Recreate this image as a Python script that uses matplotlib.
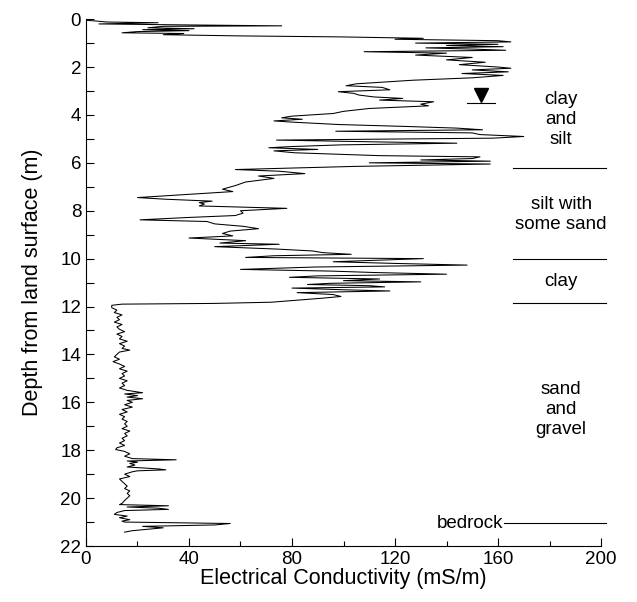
import numpy as np
import matplotlib.pyplot as plt
from matplotlib.ticker import MultipleLocator

plt.rcParams["font.family"] = ["Liberation Sans", "DejaVu Sans"]

# conductivity log: depth (m) and EC (mS/m)
depth = [0.05, 0.07, 0.12, 0.15, 0.2, 0.24, 0.28, 0.3, 0.36, 0.4, 0.44, 0.48, 0.52, 0.57, 0.6,
         0.65, 0.7, 0.74, 0.8, 0.84, 0.9, 0.95, 1.0, 1.05, 1.1, 1.15, 1.2, 1.25, 1.3, 1.36,
         1.42, 1.5, 1.6, 1.7, 1.8, 1.9, 2.0, 2.05, 2.12, 2.2, 2.27, 2.35, 2.45, 2.55, 2.7,
         2.78, 2.85, 2.95, 3.03, 3.1, 3.17, 3.25, 3.31, 3.38, 3.45, 3.55, 3.62, 3.73, 3.85, 3.94,
         4.05, 4.12, 4.18, 4.25, 4.3, 4.4, 4.48, 4.55, 4.62, 4.68, 4.75, 4.82, 4.9, 4.97, 5.05,
         5.12, 5.18, 5.25, 5.32, 5.37, 5.44, 5.5, 5.58, 5.65, 5.7, 5.75, 5.82, 5.88, 5.93, 6.0,
         6.05, 6.15, 6.28, 6.35, 6.45, 6.55, 6.65, 6.8, 6.95, 7.1, 7.2, 7.3, 7.45, 7.52, 7.6,
         7.66, 7.72, 7.8, 7.9, 8.0, 8.1, 8.2, 8.28, 8.38, 8.45, 8.55, 8.65, 8.75, 8.85, 8.95,
         9.05, 9.14, 9.25, 9.35, 9.4, 9.5, 9.6, 9.68, 9.75, 9.82, 9.88, 9.95, 10.0, 10.08, 10.13,
         10.2, 10.27, 10.35, 10.45, 10.52, 10.58, 10.65, 10.72, 10.78, 10.85, 10.92, 10.97, 11.03, 11.08, 11.13,
         11.18, 11.23, 11.3, 11.35, 11.42, 11.5, 11.58, 11.65, 11.75, 11.82, 11.87, 11.9, 11.95,
         12.05, 12.15, 12.25, 12.35, 12.45, 12.55, 12.65, 12.75, 12.85, 12.95, 13.05, 13.15, 13.25, 13.35, 13.45,
         13.55, 13.65, 13.75, 13.82, 13.9, 14.0, 14.1, 14.2, 14.3, 14.4, 14.5, 14.6, 14.7, 14.8, 14.9,
         15.0, 15.1, 15.2, 15.3, 15.4, 15.5, 15.6, 15.65, 15.72, 15.78, 15.85, 15.92, 16.0, 16.1, 16.2,
         16.3, 16.4, 16.5, 16.6, 16.7, 16.8, 16.9, 17.0, 17.1, 17.2, 17.3, 17.4, 17.5, 17.6, 17.7,
         17.8, 17.9, 17.97, 18.05, 18.15, 18.25, 18.35, 18.4, 18.45, 18.5, 18.55, 18.62, 18.7, 18.78, 18.82,
         18.86, 18.9, 19.0, 19.1, 19.2, 19.3, 19.4, 19.5, 19.6, 19.7, 19.8, 19.9, 20.0, 20.1, 20.22,
         20.27, 20.32, 20.37, 20.42, 20.47, 20.52, 20.6, 20.68, 20.75, 20.82, 20.9, 20.96, 21.0, 21.06, 21.12,
         21.18, 21.24, 21.3, 21.36, 21.42]
ec = [0, 3, 8, 28, 5, 38, 76, 30, 24, 42, 22, 40, 20, 14, 38,
      30, 60, 98, 131, 120, 160, 165, 128, 160, 140, 162, 132, 150, 163, 108,
      140, 128, 150, 140, 155, 145, 160, 165, 150, 164, 146, 162, 150, 127, 105,
      101, 115, 118, 98, 104, 106, 112, 123, 114, 135, 130, 133, 110, 100, 96,
      80, 76, 84, 73, 80, 98, 124, 144, 154, 97, 150, 153, 170, 158, 74,
      110, 144, 99, 80, 71, 90, 73, 81, 100, 114, 153, 150, 130, 157, 110,
      157, 104, 58, 75, 85, 67, 73, 62, 58, 53, 57, 42, 20, 31, 49,
      44, 46, 44, 78, 60, 61, 58, 40, 21, 47, 50, 61, 67, 56, 53,
      57, 40, 62, 52, 75, 50, 74, 88, 92, 103, 73, 62, 131, 110, 96,
      120, 148, 89, 60, 95, 112, 140, 90, 79, 114, 100, 130, 95, 86, 110,
      116, 80, 100, 118, 82, 96, 99, 92, 80, 72, 50, 14, 10,
      10, 12, 11, 14, 12, 13, 11, 14, 12, 13, 15, 12, 14, 13, 16,
      13, 15, 14, 17, 13, 12, 11, 13, 10.5, 13, 15, 13, 16, 14, 15,
      13, 16, 14, 15, 13, 16, 22, 15, 20, 16, 22, 16, 18, 15, 18,
      14, 16, 13, 15, 14, 16, 15, 16, 14, 17, 15, 16, 14, 15, 13,
      15, 12, 11.5, 15, 17, 15, 18, 35, 16, 20, 17, 19, 16, 28, 31,
      20, 18, 15, 17, 13, 14, 15, 16, 15, 17, 16, 17, 16, 15, 14,
      13, 32, 16, 28, 32, 15, 12, 11, 16, 13, 17, 14, 15, 56, 50,
      22, 30, 24, 18, 15]

# layer boundaries and labels
layer_depths = [6.2, 10.0, 11.85, 21.05]
layer_labels = ["clay\nand\nsilt", "silt with\nsome sand", "clay", "sand\nand\ngravel"]
label_depths = [4.2, 8.15, 10.95, 16.3]
water_table = 3.5

fig = plt.figure(figsize=(6.37, 6.02), dpi=100)
ax = fig.add_axes([0.135, 0.093, 0.8085, 0.8752])
ax.plot(ec, depth, color="black", lw=0.75)

for d in layer_depths[:3]:
    ax.plot([166, 202], [d, d], color="black", lw=0.8, clip_on=False)
ax.plot([162.5, 202], [layer_depths[3], layer_depths[3]], color="black", lw=0.8, clip_on=False)
for lab, d in zip(layer_labels, label_depths):
    ax.text(184.5, d, lab, ha="center", va="center", fontsize=13.5, linespacing=1.25)
ax.text(162, layer_depths[3], "bedrock", ha="right", va="center", fontsize=13.5)

# water table symbol
ax.plot([148, 159], [water_table, water_table], color="black", lw=0.8)
ax.plot([153.5], [water_table - 0.33], marker="v", color="black", markersize=10, ls="none")

ax.set_xlim(0, 200)
ax.set_ylim(22, 0)
ax.xaxis.set_major_locator(MultipleLocator(40))
ax.xaxis.set_minor_locator(MultipleLocator(20))
ax.yaxis.set_major_locator(MultipleLocator(2))
ax.yaxis.set_minor_locator(MultipleLocator(1))
ax.tick_params(direction="in", labelsize=13.5, length=6, width=0.8)
ax.tick_params(axis="x", which="minor", direction="in", length=3.5, width=0.8)
ax.tick_params(axis="y", which="minor", direction="in", length=6, width=0.8)
ax.spines["top"].set_visible(False)
ax.spines["right"].set_visible(False)
ax.set_xlabel("Electrical Conductivity (mS/m)", fontsize=15.5, labelpad=0)
ax.set_ylabel("Depth from land surface (m)", fontsize=15.5, labelpad=12)

plt.savefig("out.png", dpi=100)
